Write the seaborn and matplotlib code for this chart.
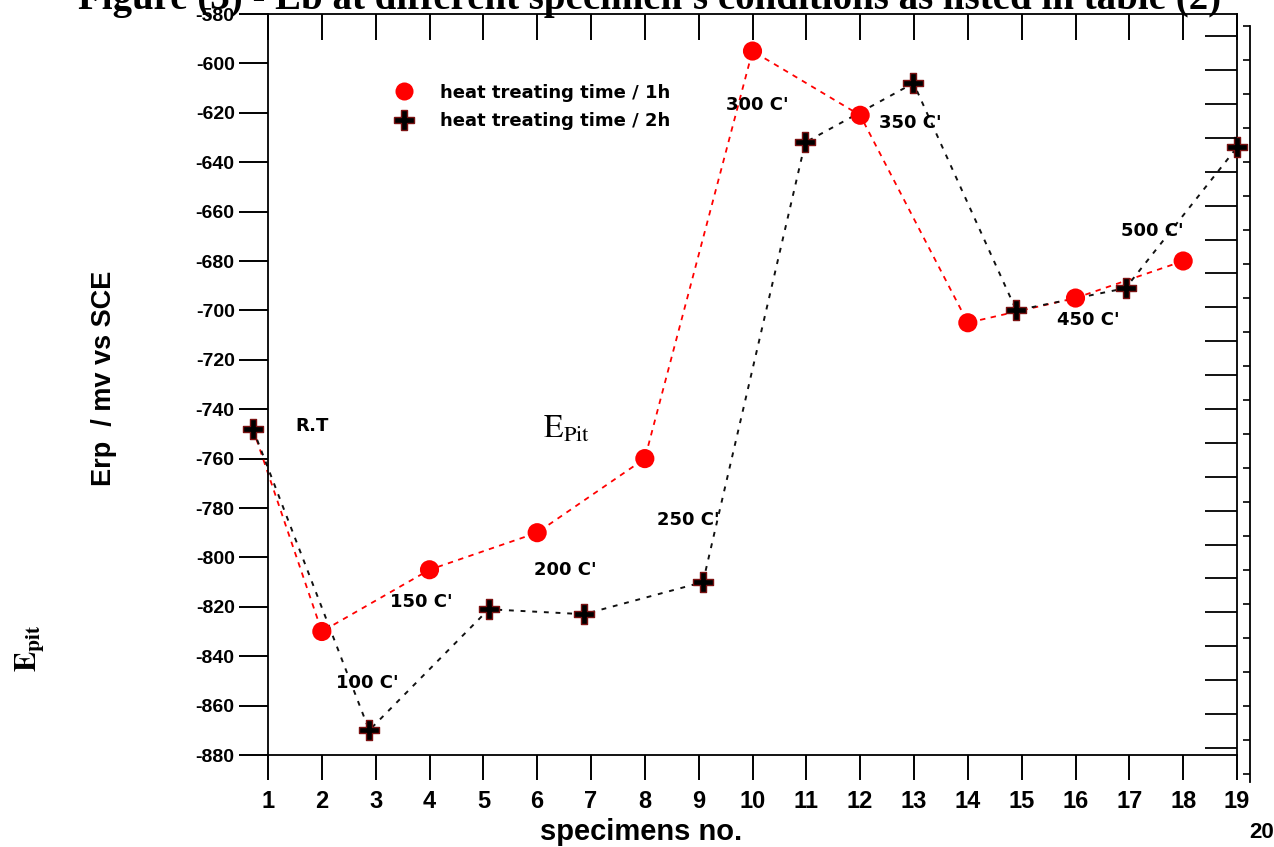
import numpy as np
import pandas as pd
import matplotlib
matplotlib.use("Agg")
import matplotlib.pyplot as plt
from matplotlib.lines import Line2D
import seaborn as sns

# ---------------- data ----------------
spec_1h = [0.72, 2, 4, 6, 8, 10, 12, 14, 16, 18]
erp_1h = [-748, -830, -805, -790, -760, -595, -621, -705, -695, -680]

spec_2h = [0.72, 2.88, 5.1, 6.87, 9.08, 10.98, 12.99, 14.9, 16.93, 19.0]
erp_2h = [-748, -870, -821, -823, -810, -632, -608, -700, -691, -634]

x_ticks = list(range(1, 20))
y_ticks = list(range(-880, -579, 20))

temp_labels = ["R.T", "100 C'", "150 C'", "200 C'", "250 C'", "300 C'", "350 C'", "450 C'", "500 C'"]
temp_label_x = [1.5, 2.84, 3.84, 6.52, 8.81, 10.09, 12.93, 16.24, 17.42]
temp_label_y = [-747, -851, -818, -805, -785, -617, -624, -704, -668]
temp_label_ha = ["left", "center", "center", "center", "center", "center", "center", "center", "center"]

legend_labels = ["heat treating time / 1h", "heat treating time / 2h"]

df1 = pd.DataFrame({"spec": spec_1h, "erp": erp_1h})
df2 = pd.DataFrame({"spec": spec_2h, "erp": erp_2h})

# ---------------- style ----------------
sns.set_theme(style="white")
plt.rcParams["font.family"] = ["Liberation Sans", "DejaVu Sans"]
plt.rcParams["text.color"] = "black"
plt.rcParams["axes.labelcolor"] = "black"
plt.rcParams["xtick.color"] = "black"
plt.rcParams["ytick.color"] = "black"

W, H = 1274, 847
fig = plt.figure(figsize=(W / 100, H / 100), dpi=100)
fig.patch.set_facecolor("white")

L, R, T, B = 268, 1237, 14, 755
ax = fig.add_axes([L / W, 1 - B / H, (R - L) / W, (B - T) / H])
ax.set_facecolor("white")

# lines
sns.lineplot(data=df1, x="spec", y="erp", ax=ax, color="#ff0000", lw=1.3,
             linestyle=(0, (3, 3)), estimator=None, sort=False, zorder=2)
sns.lineplot(data=df2, x="spec", y="erp", ax=ax, color="#111111", lw=1.4,
             linestyle=(0, (2.5, 3.5)), estimator=None, sort=False, zorder=2)
for ln in ax.lines:
    ln.set_clip_on(False)

# markers
sns.scatterplot(data=df1.iloc[1:], x="spec", y="erp", ax=ax, color="#ff0000",
                marker="o", s=190, edgecolor="none", zorder=4, clip_on=False)
sns.scatterplot(data=df2, x="spec", y="erp", ax=ax, color="#000000",
                marker="P", s=210, edgecolor="#7a1212", linewidth=1.0,
                zorder=5, clip_on=False)

ax.set_xlim(1, 19)
ax.set_ylim(-880, -580)
ax.set_xticks(x_ticks)
ax.set_xticklabels([str(v) for v in x_ticks], fontweight="bold", fontsize=17)
ax.set_yticks(y_ticks)
ax.set_yticklabels([str(v) for v in y_ticks], fontweight="bold", fontsize=14)

ax.tick_params(axis="y", which="major", left=True, right=False, direction="out",
               length=21, width=1.4, color="black", pad=3, labelcolor="black")
ax.tick_params(axis="x", which="major", bottom=True, top=True, direction="out",
               length=18, width=1.4, color="black", pad=7, labelcolor="black")
ax.tick_params(axis="x", which="major", top=True, labeltop=False)
# top ticks point inward
for tl in ax.xaxis.get_ticklines()[1::2]:
    tl.set_marker(3)
    tl.set_markersize(19)

for s in ax.spines.values():
    s.set_visible(True)
    s.set_color("black")
    s.set_linewidth(1.3)

ax.set_xlabel("specimens no.", fontweight="bold", fontsize=21, color="black")
ax.xaxis.set_label_coords((641 - L) / (R - L), (B - 818) / (B - T))
ax.set_ylabel("Erp  / mv vs SCE", fontweight="bold", fontsize=19.5, color="black")
ax.yaxis.set_label_coords((117 - L) / (R - L), (B - 378) / (B - T))

# temperature annotations
for txt, tx, ty, ha in zip(temp_labels, temp_label_x, temp_label_y, temp_label_ha):
    ax.text(tx, ty, txt, family="DejaVu Sans", fontweight="bold", fontsize=13,
            ha=ha, va="center", color="black", zorder=6)

ax.text(6.55, -748, r"$\mathrm{E_{Pit}}$", math_fontfamily="stix", fontsize=23,
        ha="center", va="center", color="black")

# legend
handles = [
    Line2D([], [], linestyle="none", marker="o", markersize=13, color="#ff0000", markeredgecolor="none"),
    Line2D([], [], linestyle="none", marker="P", markersize=15, color="#000000", markeredgecolor="#7a1212"),
]
leg = ax.legend(handles, legend_labels, loc="upper left", bbox_to_anchor=(0.105, 0.928),
                frameon=False, handletextpad=1.0, labelspacing=0.6,
                prop={"family": "DejaVu Sans", "weight": "bold", "size": 13})
for t in leg.get_texts():
    t.set_color("black")

# right inner ticks (different spacing)
ax_r = ax.twinx()
ax_r.set_ylim(ax.get_ylim())
ax_r.set_yticks(np.arange(-589.0, -880.0, -13.72))
ax_r.tick_params(axis="y", direction="in", length=23, width=1.3, color="black",
                 labelright=False, right=True)
for s in ax_r.spines.values():
    s.set_visible(False)

# outer right decorative axis line
ax_o = fig.add_axes([L / W, 1 - 782 / H, (1250 - L) / W, (782 - 26) / H])
ax_o.patch.set_visible(False)
for k, s in ax_o.spines.items():
    s.set_visible(k == "right")
ax_o.spines["right"].set_linewidth(1.3)
ax_o.spines["right"].set_color("black")
ax_o.set_ylim(756, 0)
ax_o.set_xticks([])
ax_o.set_yticks(np.arange(0, 757, 34))
ax_o.tick_params(axis="y", direction="in", length=5, width=1.2, color="black",
                 labelleft=False, left=False, right=True, labelright=False)

# title (partially cut at top)
fig.text(78 / W, 1 - 9 / H, "Figure (3) - Eb at different specimen's conditions as listed in table (2)",
         family="Liberation Serif", fontweight="bold", fontsize=28, ha="left", va="baseline",
         color="black")

# side label
fig.text(30 / W, 1 - 648 / H, r"$\mathbf{E}_{\mathbf{pit}}$", math_fontfamily="stix",
         fontsize=22, rotation=90, ha="center", va="center", color="black")

fig.text(1262 / W, 1 - 832 / H, "20", fontweight="bold", fontsize=16, ha="center", va="center",
         color="black")

fig.savefig("out.png", dpi=100)
